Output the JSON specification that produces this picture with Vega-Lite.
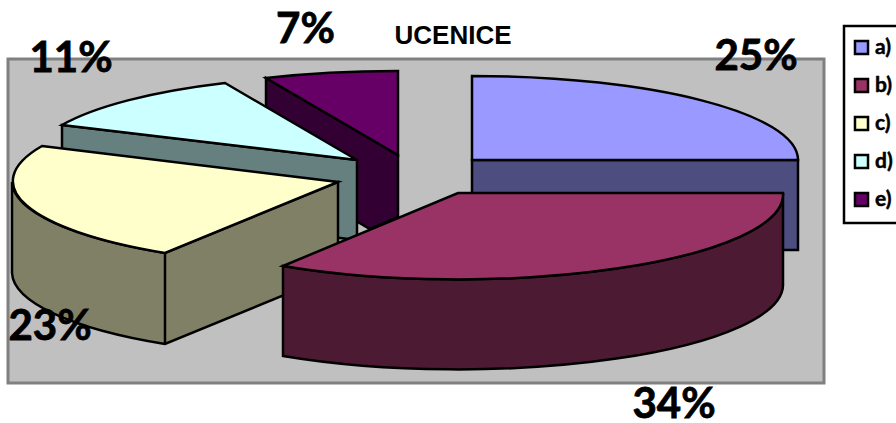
{
  "$schema": "https://vega.github.io/schema/vega-lite/v6.json",
  "width": 816,
  "height": 324,
  "autosize": "none",
  "padding": {"left": 8, "top": 59, "right": 72, "bottom": 40},
  "background": "white",
  "view": {"fill": "#C0C0C0", "stroke": "#808080", "strokeWidth": 3},
  "config": {"legend": {
    "labelFont": "Lato", "labelFontWeight": "bold", "labelFontSize": 21, "labelColor": "black", "labelLimit": 100,
    "symbolType": "square", "symbolSize": 170, "symbolStrokeColor": "black", "symbolStrokeWidth": 2.5, "symbolOffset": -4,
    "strokeColor": "black", "strokeWidth": 2.5, "fillColor": "white", "padding": 11, "rowPadding": 13, "labelOffset": 3, "symbolOpacity": 1
  }},
  "title": {"text": "UCENICE", "font": "Liberation Sans", "fontWeight": "bold", "fontSize": 26, "color": "black", "anchor": "middle", "dx": 37, "offset": -61, "baseline": "alphabetic"},
  "data": {"values": [
    {"slice": "a)", "share": 0.25},
    {"slice": "e)", "share": 0.07},
    {"slice": "d)", "share": 0.11},
    {"slice": "c)", "share": 0.23},
    {"slice": "b)", "share": 0.34}
  ]},
  "layer": [
    {
      "mark": {"type": "point", "filled": true, "opacity": 1, "size": 4, "stroke": "black", "strokeWidth": 2.5},
      "encoding": {
        "shape": {"field": "slice", "type": "nominal", "legend": null, "scale": {
          "domain": ["a)", "b)", "c)", "d)", "e)"],
          "range": [
            "M56,-61 L382,-61 L382,29 L56,29 Z",
            "M-133,45 L-133,135 A325,85 0 0 0 367,62 L367,-28 A325,85 0 0 1 -133,45 Z",
            "M-404,-39 L-404,52 A326,85 0 0 0 -251,123 L-78,52 L-78,-39 L-251,32 A326,85 0 0 1 -404,-39 Z M-251,32 L-251,123",
            "M-354,-96 L-59,-61 L-59,19 L-354,-16 Z",
            "M-150,-143 L-18,-66 L-18,-4 L-46,8 L-150,-53 Z"
          ]}},
        "fill": {"condition": [
          {"test": "datum.slice === 'a)'", "value": "#4D4D80"},
          {"test": "datum.slice === 'b)'", "value": "#4D1A33"},
          {"test": "datum.slice === 'c)'", "value": "#808066"},
          {"test": "datum.slice === 'd)'", "value": "#668080"}
        ], "value": "#330033"}
      }
    },
    {
      "mark": {"type": "point", "filled": true, "opacity": 1, "size": 4, "stroke": "black", "strokeWidth": 2.5},
      "encoding": {
        "shape": {"field": "slice", "type": "nominal", "legend": null, "scale": {
          "domain": ["a)", "b)", "c)", "d)", "e)"],
          "range": [
            "M56,-145 A326,84 0 0 1 382,-61 L56,-61 Z",
            "M-133,45 L42,-28 L367,-28 A325,85 0 0 1 -133,45 Z",
            "M-374,-75 L-78,-39 L-251,32 A326,85 0 0 1 -374,-75 Z",
            "M-354,-96 A326,85 0 0 1 -191,-138 L-59,-61 Z",
            "M-150,-143 A326,84 0 0 1 -18,-150 L-18,-66 Z"
          ]}},
        "fill": {"field": "slice", "type": "nominal", "scale": {
          "domain": ["a)", "b)", "c)", "d)", "e)"],
          "range": ["#9999FF", "#993366", "#FFFFCC", "#CCFFFF", "#660066"]},
          "legend": {"title": null, "orient": "none", "legendX": 836, "legendY": -33,
            "encode": {"labels": {"update": {"font": {"value": "Lato"}, "fontWeight": {"value": "bold"}, "fontSize": {"value": 21}, "fill": {"value": "black"}, "stroke": {"value": "black"}, "strokeWidth": {"value": 0.5}}}}}}
      }
    },
    {
      "mark": {"type": "text", "font": "Lato", "fontWeight": "bold", "fontSize": 42, "color": "black", "stroke": "black", "strokeWidth": 0.8, "baseline": "alphabetic", "align": "center", "clip": false},
      "encoding": {
        "text": {"field": "share", "type": "quantitative", "format": ".0%"},
        "x": {"field": "share", "type": "quantitative", "axis": null, "scale": {"domain": [0.07, 0.11, 0.23, 0.25, 0.34], "range": [297.5, 63, 42, 748, 666], "zero": false, "nice": false}},
        "y": {"field": "share", "type": "quantitative", "axis": null, "scale": {"domain": [0.07, 0.11, 0.23, 0.25, 0.34], "range": [-16, 13, 281, 11, 359], "zero": false, "nice": false}}
      }
    }
  ],
  "resolve": {"scale": {"shape": "independent"}}
}
